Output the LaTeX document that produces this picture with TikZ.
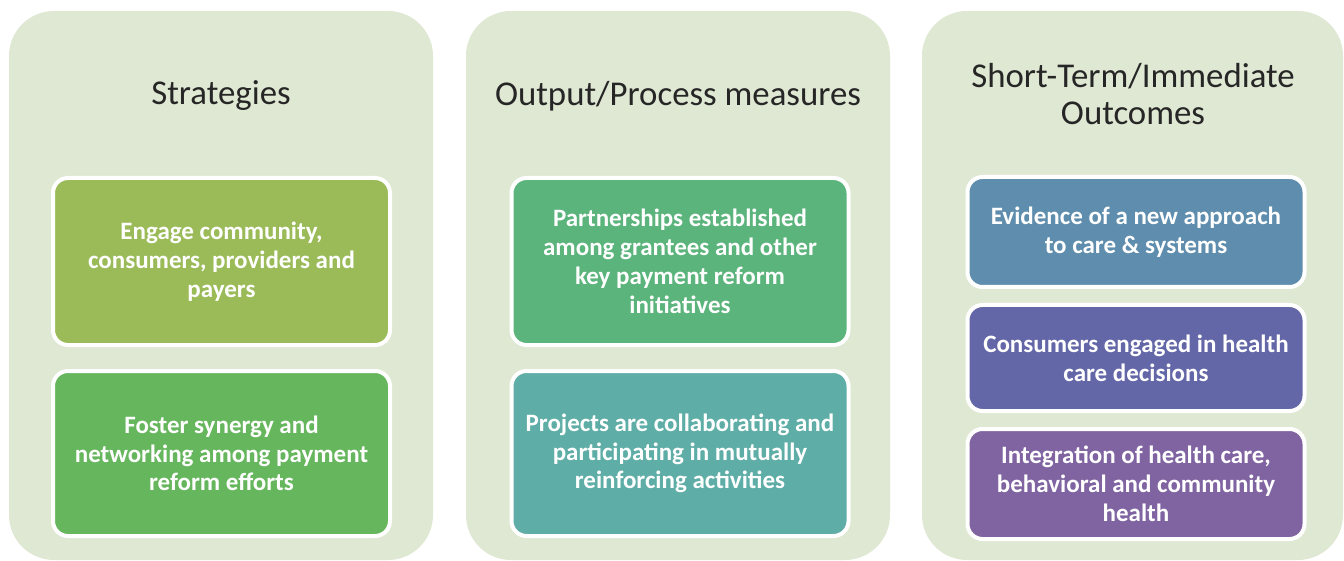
\documentclass[tikz,border=0pt]{standalone}
\usepackage{fontspec}
\setmainfont{Carlito}
\definecolor{panelbg}{HTML}{DFE8D3}
\definecolor{titlecol}{HTML}{262626}
\definecolor{cEngage}{HTML}{9BBB59}
\definecolor{cFoster}{HTML}{66B65D}
\definecolor{cPartner}{HTML}{5BB47B}
\definecolor{cProject}{HTML}{5EADA6}
\definecolor{cEvid}{HTML}{5F8DAD}
\definecolor{cCons}{HTML}{6467A7}
\definecolor{cInteg}{HTML}{8064A2}
\tikzset{
  panel/.style={fill=panelbg, rounded corners=45pt, minimum width=424pt, minimum height=549pt, inner sep=0pt},
  title/.style={text=titlecol, font=\fontsize{34.8}{37}\selectfont, align=center, inner sep=0pt},
  card/.style={draw=white, line width=4pt, rounded corners=15pt, minimum width=337pt, text=white,
    font=\fontsize{25}{28.8}\selectfont\bfseries, align=center, inner sep=0pt},
}
\begin{document}
\begin{tikzpicture}[x=1pt,y=-1pt]
\useasboundingbox (0,0) rectangle (1344,561);
% panels
\node[panel] (p1) at (221,285.5) {};
\node[panel] (p2) at (678,285.5) {};
\node[panel, minimum width=421pt] (p3) at (1132.5,285.5) {};
% titles
\node[title] (t1) at (221,96) {Strategies};
\node[title] (t2) at (678,96) {Output/Process measures};
\node[title] (t3) at (1133,94) {Short-Term/Immediate\\Outcomes};
% strategy cards
\node[card, fill=cEngage, minimum height=167pt] (s1) at (221.5,261.5) {Engage community,\\consumers, providers and\\payers};
\node[card, fill=cFoster, minimum height=165pt] (s2) at (221.5,453.5) {Foster synergy and\\networking among payment\\reform efforts};
% output cards
\node[card, fill=cPartner, minimum height=167pt] (o1) at (680,261.5) {Partnerships established\\among grantees and other\\key payment reform\\initiatives};
\node[card, fill=cProject, minimum height=165pt] (o2) at (680,453.5) {Projects are collaborating and\\participating in mutually\\reinforcing activities};
% outcome cards
\node[card, fill=cEvid, minimum height=110pt] (r1) at (1136,232) {Evidence of a new approach\\to care \& systems};
\node[card, fill=cCons, minimum height=106pt] (r2) at (1136,358) {Consumers engaged in health\\care decisions};
\node[card, fill=cInteg, minimum height=110pt] (r3) at (1136,484) {Integration of health care,\\behavioral and community\\health};
\end{tikzpicture}
\end{document}
